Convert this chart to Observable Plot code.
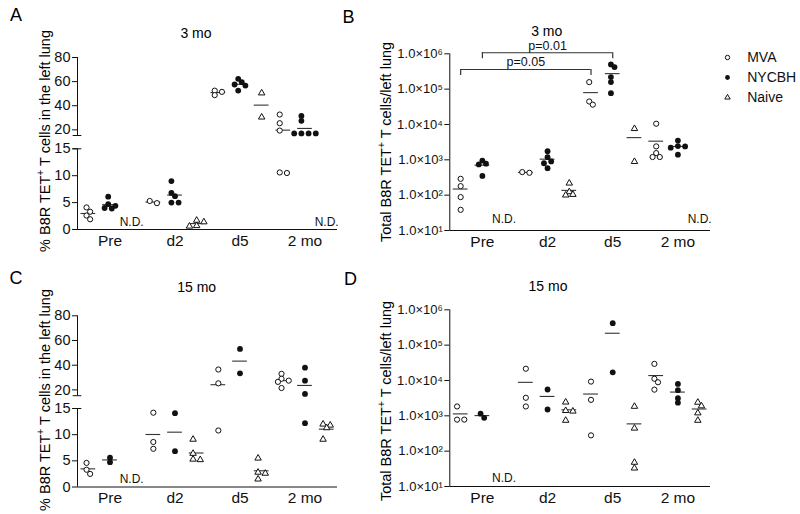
<!DOCTYPE html>
<html>
<head>
<meta charset="utf-8">
<script src="https://cdn.jsdelivr.net/npm/d3@7"></script>
<script src="https://cdn.jsdelivr.net/npm/@observablehq/plot@0.6"></script>
<style>
  html, body { margin: 0; padding: 0; background: #fff; }
  #fig { position: relative; width: 800px; height: 514px; font-family: "Liberation Sans", Arial, sans-serif; color: #000; overflow: hidden; }
  .lbl { position: absolute; line-height: 1; white-space: nowrap; }
  .sup { font-size: 70%; vertical-align: 0.55em; line-height: 0; }
  .wrap svg { max-width: none !important; }
</style>
</head>
<body>
<div id="fig"></div>
<script>
// ---------- data ----------
const groups = ["MVA", "NYCBH", "Naive"];
const timepoints = ["Pre", "d2", "d5", "2 mo"];

// Panel A: % B8R TET+ T cells in the left lung, 3 mo (null = N.D.)
const pctA_MVA   = [[4.1, 3.3, 2.6, 1.9], [4.9, 5.3], [52.5, 48.8, 51.5], [32.7, 25.5, 19.4, 10.5, 10.6]];
const pctA_NYCBH = [[6.1, 4.7, 4.4, 4.0, 3.9], [9.0, 6.8, 6.2, 5.0, 5.0], [62.3, 59.5, 57.6, 56.7, 52.6], [31.5, 27.5, 17, 17, 17, 17]];
const pctA_Naive = [null, [1.7, 1.4, 0.7, 0.6], [50.5, 30.5], null];

// Panel B: total B8R TET+ T cells / left lung, 3 mo
const totB_MVA   = [[290, 180, 88, 38.5], [430, 450], [158000, 44700, 36400], [10500, 2400, 1550, 1200, 1200]];
const totB_NYCBH = [[950, 780, 740, 350], [1750, 1190, 900, 800, 580], [500000, 420000, 219000, 158000, 77000], [3500, 2450, 2400, 2200, 1400]];
const totB_Naive = [null, [218, 124, 104, 100], [7600, 890], null];
const bracketsB = [
  {from: 0, to: 6, y: 3.6e5, label: "p=0.05"},
  {from: 1, to: 7, y: 1.07e6, label: "p=0.01"}
];

// Panel C: % B8R TET+ T cells in the left lung, 15 mo
const pctC_MVA   = [[4.6, 3.3, 2.5], [14.2, 8.6, 7.3], [36.5, 25.3, 10.8], [33, 29, 27.5, 26.5, 21.5]];
const pctC_NYCBH = [[5.6, 4.75], [14.1, 6.85], [53.2, 33.4], [38, 27.5, 16.7, 12.2]];
const pctC_Naive = [null, [9.1, 6.4, 5.3, 5.2], [5.5, 2.8, 2.6, 1.5], [12, 11.8, 11.3, 9.1]];

// Panel D: total B8R TET+ T cells / left lung, 15 mo
const totD_MVA   = [[1840, 780, 780], [21500, 3240, 1840], [9300, 2830, 280], [29500, 11200, 8900, 5500]];
const totD_NYCBH = [[1150, 880], [5560, 1510], [417000, 17000], [8000, 5300, 3150, 2350]];
const totD_Naive = [null, [2430, 1400, 1350, 740], [1840, 445, 48, 33], [2400, 1900, 1200, 740]];

const pctTicks = [0, 5, 10, 15, 20, 40, 60, 80];
const logTicks = [1e1, 1e2, 1e3, 1e4, 1e5, 1e6];

// ---------- layout ----------
const panels = [
  {letter: "A", title: "3 mo", left: 0, top: 0, log: false,
   yDomain: [0, 15, 15.3, 80], yRange: [229, 148.3, 135, 57], xRange: [77, 337], yTicks: pctTicks,
   series: {MVA: pctA_MVA, NYCBH: pctA_NYCBH, Naive: pctA_Naive}, ndDy: -3.4,
   letterPos: [16, 14.5], titlePos: [196, 33], ylabPos: [45, 141],
   ylab: '% B8R TET<span class="sup">+</span> T cells in the left lung'},
  {letter: "B", title: "3 mo", left: 400, top: 0, log: true,
   yDomain: [10, 1e6], yRange: [230, 53.3], xRange: [49.3, 310], yTicks: logTicks,
   series: {MVA: totB_MVA, NYCBH: totB_NYCBH, Naive: totB_Naive}, ndDy: -7.8, brackets: bracketsB,
   letterPos: [348.5, 17], titlePos: [546.7, 30.5], ylabPos: [386, 142],
   ylab: 'Total B8R TET<span class="sup">+</span> T cells/left lung'},
  {letter: "C", title: "15 mo", left: 0, top: 257, log: false,
   yDomain: [0, 15, 15.3, 80], yRange: [229.5, 151, 138.2, 58.3], xRange: [77, 337], yTicks: pctTicks,
   series: {MVA: pctC_MVA, NYCBH: pctC_NYCBH, Naive: pctC_Naive}, ndDy: -4.3,
   letterPos: [16, 277.5], titlePos: [196.7, 286.7], ylabPos: [45, 400],
   ylab: '% B8R TET<span class="sup">+</span> T cells in the left lung'},
  {letter: "D", title: "15 mo", left: 400, top: 257, log: true,
   yDomain: [10, 1e6], yRange: [229, 52.3], xRange: [49.3, 310], yTicks: logTicks,
   series: {MVA: totD_MVA, NYCBH: totD_NYCBH, Naive: totD_Naive}, ndDy: -4.4,
   letterPos: [350.5, 278.5], titlePos: [548, 286], ylabPos: [386, 401],
   ylab: 'Total B8R TET<span class="sup">+</span> T cells/left lung'}
];

const W = 400, H = 257, NSLOT = 12;
const STEP = 3.6, DMIN = 4.4;
const supDigits = {1: "\u00b9", 2: "\u00b2", 3: "\u00b3", 4: "\u2074", 5: "\u2075", 6: "\u2076"};
const fig = document.getElementById("fig");
const font = "'Liberation Sans', Arial, sans-serif";
const ink = "#111";

function addLabel(html, [x, y], size, rotate) {
  const d = document.createElement("div");
  d.className = "lbl";
  d.innerHTML = html;
  d.style.left = x + "px";
  d.style.top = y + "px";
  d.style.fontSize = size + "px";
  d.style.transform = "translate(-50%,-50%)" + (rotate ? " rotate(-90deg)" : "");
  fig.appendChild(d);
}

function buildRows(p) {
  const yS = (p.log ? d3.scaleLog() : d3.scaleLinear()).domain(p.yDomain).range(p.yRange);
  const band = (p.xRange[1] - p.xRange[0]) / NSLOT;
  const rows = [], means = [], nd = [];
  groups.forEach((g, gi) => {
    p.series[g].forEach((vals, ti) => {
      const slot = ti * 3 + gi;
      if (!vals) { nd.push({x: slot + 0.5}); return; }
      means.push({x1: slot + 0.5 - 0.34, x2: slot + 0.5 + 0.34, y: d3.mean(vals)});
      const pts = vals.map(v => ({v, py: yS(v)})).sort((a, b) => a.py - b.py);
      const placed = [];
      for (const q of pts) {
        let off = 0;
        for (let k = 0; k < 30; k++) {
          const cand = k === 0 ? 0 : (k % 2 ? 1 : -1) * Math.ceil(k / 2) * STEP;
          if (placed.every(o => Math.hypot(o.off - cand, o.py - q.py) >= DMIN)) { off = cand; break; }
        }
        q.off = off;
        placed.push(q);
      }
      const c = (d3.min(placed, o => o.off) + d3.max(placed, o => o.off)) / 2;
      for (const q of placed) rows.push({x: slot + 0.5 + (q.off - c) / band, y: q.v, group: g});
    });
  });
  return {rows, means, nd};
}

for (const p of panels) {
  const {rows, means, nd} = buildRows(p);
  const lin = !p.log;
  const axisSegs = lin ? [{y1: p.yDomain[0], y2: p.yDomain[1]}, {y1: p.yDomain[2], y2: p.yDomain[3]}]
                       : [{y1: p.yDomain[0], y2: p.yDomain[1]}];
  const caps = lin ? [p.yDomain[1], p.yDomain[2]] : [];
  const marks = [
    Plot.ruleX(axisSegs, {x: () => 0, y1: "y1", y2: "y2", stroke: ink, strokeWidth: 1}),
    Plot.ruleY([p.yDomain[0]], {x1: 0, x2: NSLOT, stroke: ink, strokeWidth: 1}),
    Plot.ruleY(caps, {y: d => d, x1: -0.2, x2: 0.2, stroke: ink, strokeWidth: 1}),
    Plot.axisY({ticks: p.yTicks, tickSize: 5, tickPadding: 2, fontSize: lin ? 14.5 : 13, label: null,
      tickFormat: lin ? (d => String(d)) : (d => "1.0\u00d710" + supDigits[Math.round(Math.log10(d))])}),
    Plot.axisX({ticks: timepoints.map((t, i) => i * 3 + 1.5), tickSize: 0, tickPadding: 5, fontSize: 15.5, label: null,
      tickFormat: d => timepoints[Math.round((d - 1.5) / 3)]}),
    Plot.ruleY(means, {x1: "x1", x2: "x2", y: "y", stroke: "#333", strokeWidth: 1.1}),
    Plot.dot(rows.filter(d => d.group === "MVA"), {x: "x", y: "y", r: 2.6, fill: "white", stroke: ink, strokeWidth: 1}),
    Plot.dot(rows.filter(d => d.group === "NYCBH"), {x: "x", y: "y", r: 2.9, fill: ink, stroke: "none"}),
    Plot.dot(rows.filter(d => d.group === "Naive"), {x: "x", y: "y", r: 2.4, symbol: "triangle", fill: "white", stroke: ink, strokeWidth: 1}),
    Plot.text(nd, {x: "x", y: () => p.yDomain[0], text: () => "N.D.", dy: p.ndDy, lineAnchor: "bottom", fontSize: 12, fill: ink})
  ];
  if (p.brackets) {
    const drop = Math.pow(10, 0.17);
    const ends = p.brackets.flatMap(b => [{x: b.from + 0.5, y1: b.y, y2: b.y / drop}, {x: b.to + 0.5, y1: b.y, y2: b.y / drop}]);
    marks.push(
      Plot.ruleY(p.brackets, {x1: d => d.from + 0.5, x2: d => d.to + 0.5, y: "y", stroke: "#333", strokeWidth: 1.2}),
      Plot.ruleX(ends, {x: "x", y1: "y1", y2: "y2", stroke: "#333", strokeWidth: 1.2}),
      Plot.text(p.brackets, {x: d => (d.from + d.to) / 2 + 0.5, y: "y", text: "label", dy: -3, lineAnchor: "bottom", fontSize: 12.5, fill: ink})
    );
  }
  const svg = Plot.plot({
    width: W, height: H,
    marginLeft: p.xRange[0], marginRight: W - p.xRange[1],
    marginTop: p.yRange[p.yRange.length - 1], marginBottom: H - p.yRange[0],
    x: {type: "linear", domain: [0, NSLOT], range: p.xRange},
    y: {type: p.log ? "log" : "linear", domain: p.yDomain, range: p.yRange},
    style: {fontFamily: font, fontSize: "13px", color: ink, background: "transparent", overflow: "visible"},
    marks
  });
  const wrap = document.createElement("div");
  wrap.className = "wrap";
  wrap.style.cssText = `position:absolute;left:${p.left}px;top:${p.top}px;width:${W}px;height:${H}px;`;
  wrap.appendChild(svg);
  fig.appendChild(wrap);

  addLabel(p.letter, p.letterPos, 18, false);
  addLabel(p.title, p.titlePos, 14, false);
  addLabel(p.ylab, p.ylabPos, 14.5, true);
}

// ---------- legend ----------
const legend = Plot.plot({
  width: 85, height: 62, margin: 0,
  x: {domain: [0, 1], range: [12, 31.7], axis: null},
  y: {type: "point", domain: groups, range: [11.7, 51.7], padding: 0, axis: null},
  style: {fontFamily: font, background: "transparent", overflow: "visible"},
  marks: [
    Plot.dot(["MVA"], {x: () => 0, y: d => d, r: 2.2, fill: "white", stroke: ink, strokeWidth: 1}),
    Plot.dot(["NYCBH"], {x: () => 0, y: d => d, r: 2.4, fill: ink, stroke: "none"}),
    Plot.dot(["Naive"], {x: () => 0, y: d => d, r: 2, symbol: "triangle", fill: "white", stroke: ink, strokeWidth: 1}),
    Plot.text(groups, {x: () => 1, y: d => d, text: d => d, textAnchor: "start", fontSize: 14, fill: ink})
  ]
});
const lw = document.createElement("div");
lw.className = "wrap";
lw.style.cssText = "position:absolute;left:715px;top:45px;width:85px;height:62px;";
lw.appendChild(legend);
fig.appendChild(lw);
</script>
</body>
</html>
